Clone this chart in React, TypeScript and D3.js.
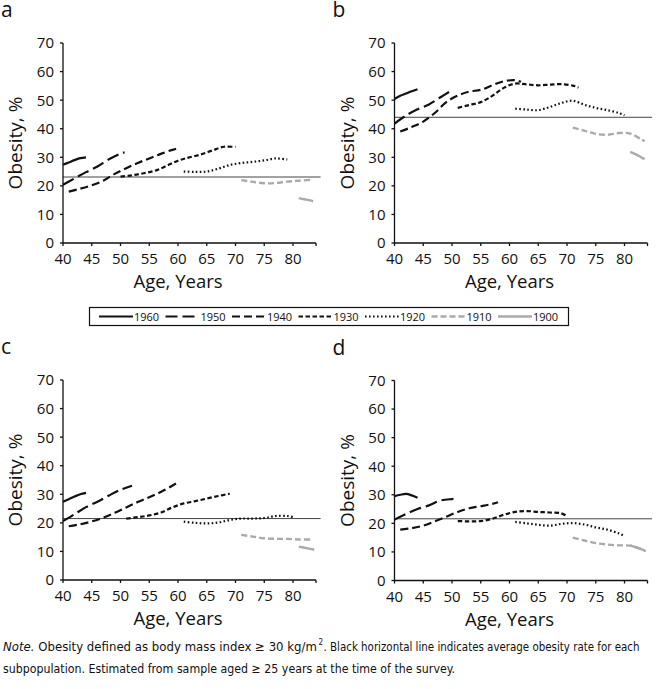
import * as d3 from "d3";

type Pt = [number, number];

const cohorts = ["1960", "1950", "1940", "1930", "1920", "1910", "1900"];
const xTicks = [40, 45, 50, 55, 60, 65, 70, 75, 80];
const yTicks = [0, 10, 20, 30, 40, 50, 60, 70];

// a
const panelA: Pt[][] = [
  [[40, 27.4], [41, 28.2], [42, 29.0], [43, 29.7], [44, 30.0]],
  [[40, 20.4], [42, 22.6], [44, 24.8], [46, 26.8], [48, 29.3], [50, 31.3], [50.7, 31.7]],
  [[41, 18.0], [43, 19.0], [45, 20.2], [47, 21.8], [49, 24.2], [51, 26.2], [53, 28.0], [55, 29.6], [57, 31.2], [59, 32.6], [60, 33.2]],
  [[50, 23.2], [52, 23.7], [54, 24.4], [56, 25.3], [58, 27.0], [60, 28.8], [62, 30.0], [64, 31.0], [66, 32.4], [68, 33.7], [70, 33.6]],
  [[61, 25.0], [63, 24.9], [65, 25.0], [67, 26.0], [69, 27.3], [71, 28.0], [73, 28.4], [75, 28.9], [77, 29.6], [79, 29.2]],
  [[71, 22.0], [73, 21.4], [75, 20.9], [77, 21.0], [79, 21.5], [81, 21.8], [83, 22.1]],
  [[81, 15.7], [82, 15.3], [83, 14.9], [83.5, 14.6]],
];
// b
const panelB: Pt[][] = [
  [[40, 50.4], [41, 51.5], [42, 52.3], [43, 53.1], [44, 53.8]],
  [[40, 41.8], [42, 44.6], [44, 46.8], [46, 48.5], [48, 51.0], [50, 53.5]],
  [[41, 39.0], [43, 40.6], [45, 42.5], [47, 45.5], [49, 49.3], [51, 51.6], [53, 53.0], [55, 53.6], [57, 55.2], [59, 56.6], [61, 57.0], [62, 56.4]],
  [[51, 47.3], [53, 48.3], [55, 49.3], [57, 51.5], [59, 54.3], [61, 55.8], [63, 55.5], [65, 55.2], [67, 55.4], [69, 55.6], [71, 55.1], [72, 54.4]],
  [[61, 47.0], [63, 46.7], [65, 46.5], [67, 47.6], [69, 49.0], [71, 49.8], [73, 48.4], [75, 47.3], [77, 46.5], [79, 45.5], [80, 44.7]],
  [[71, 40.4], [73, 39.3], [75, 38.2], [77, 37.9], [79, 38.5], [81, 38.3], [83, 36.2], [83.5, 35.6]],
  [[81, 31.9], [82, 31.0], [83, 29.9], [83.5, 29.4]],
];
// c
const panelC: Pt[][] = [
  [[40, 27.4], [41, 28.3], [42, 29.2], [43, 30.0], [44, 30.5]],
  [[40, 20.6], [42, 23.0], [44, 25.5], [46, 27.4], [48, 29.6], [50, 31.6], [52, 33.0]],
  [[41, 18.8], [43, 19.5], [45, 20.5], [47, 21.8], [49, 23.5], [51, 25.4], [53, 27.3], [55, 29.0], [57, 30.8], [59, 33.0], [60, 34.2]],
  [[51, 21.5], [53, 22.0], [55, 22.6], [57, 23.6], [59, 25.4], [61, 26.8], [63, 27.6], [65, 28.5], [67, 29.4], [69, 30.2]],
  [[61, 20.4], [63, 20.0], [65, 19.8], [67, 20.1], [69, 21.0], [71, 21.5], [73, 21.5], [75, 21.7], [77, 22.4], [79, 22.4], [80, 22.0]],
  [[71, 15.8], [73, 15.2], [75, 14.6], [77, 14.4], [79, 14.4], [81, 14.2], [83, 14.2]],
  [[81, 11.7], [82, 11.3], [83, 10.9], [83.7, 10.6]],
];
// d
const panelD: Pt[][] = [
  [[40, 29.5], [41, 30.0], [42, 30.3], [43, 29.8], [44, 29.0]],
  [[40, 21.3], [42, 23.3], [44, 25.0], [46, 26.3], [48, 28.0], [50, 28.5], [51, 28.6]],
  [[41, 17.8], [43, 18.3], [45, 19.2], [47, 20.7], [49, 22.3], [51, 24.0], [53, 25.3], [55, 26.0], [57, 26.8], [58, 27.4]],
  [[51, 20.8], [53, 20.7], [55, 20.8], [57, 21.6], [59, 23.0], [61, 24.0], [63, 24.3], [65, 24.0], [67, 23.8], [69, 23.5], [70, 22.5]],
  [[61, 20.5], [63, 20.0], [65, 19.5], [67, 19.2], [69, 19.8], [71, 20.1], [73, 19.6], [75, 18.6], [77, 17.8], [79, 16.5], [80, 15.5]],
  [[71, 15.0], [73, 14.0], [75, 13.1], [77, 12.6], [79, 12.3], [81, 12.2], [83, 11.0]],
  [[81, 12.3], [82, 11.6], [83, 10.9], [83.7, 10.3]],
];
const panelNames = ["a", "b", "c", "d"];
const averages = [23.1, 44.0, 21.5, 21.6];

const styles: Record<string, { color: string; dash: string; width: number }> = {
  "1960": { color: "#111", dash: "none", width: 2.2 },
  "1950": { color: "#111", dash: "12,5", width: 2.2 },
  "1940": { color: "#111", dash: "8,4", width: 2.2 },
  "1930": { color: "#111", dash: "4.5,2.5", width: 2.2 },
  "1920": { color: "#111", dash: "1.6,2.4", width: 2.2 },
  "1910": { color: "#aaa", dash: "6,3", width: 2.4 },
  "1900": { color: "#aaa", dash: "none", width: 2.4 },
};

const FONT = "'Open Sans', 'Noto Sans', sans-serif";
const NARROW = "'Liberation Sans Narrow', 'DejaVu Sans Condensed', sans-serif";

function Panel({ name, series, avg, ox, oy }: { name: string; series: Pt[][]; avg: number; ox: number; oy: number }) {
  const x = d3.scaleLinear().domain([40, 84]).range([ox, ox + 253]);
  const y = d3.scaleLinear().domain([0, 70]).range([oy, oy - 200]);
  const line = d3.line<Pt>().x(d => x(d[0])).y(d => y(d[1])).curve(d3.curveCatmullRom);
  return (
    <g>
      <text x={ox - 62} y={oy - 226} fontSize={21} fontFamily={FONT} fill="#111">{name}</text>
      {/* average line */}
      <line x1={x(40)} x2={x(84.8)} y1={y(avg)} y2={y(avg)} stroke="#444" strokeWidth={1} />
      {series.map((s, i) => {
        const st = styles[cohorts[i]];
        return (
          <path key={i} d={line(s) || ""} fill="none" stroke={st.color}
            strokeWidth={st.width} strokeDasharray={st.dash} />
        );
      })}
      {/* axes */}
      <line x1={ox} x2={ox} y1={y(70)} y2={oy} stroke="#111" strokeWidth={1.3} />
      <line x1={ox} x2={x(84)} y1={oy} y2={oy} stroke="#111" strokeWidth={1.3} />
      {yTicks.map(t => (
        <g key={t}>
          <line x1={ox - 3} x2={ox} y1={y(t)} y2={y(t)} stroke="#111" strokeWidth={1.3} />
          <text x={ox - 9} y={y(t)} dy="0.36em" textAnchor="end" fontSize={15} fontFamily={FONT} fill="#111">{t}</text>
        </g>
      ))}
      {[...xTicks, 84].map(t => (
        <line key={t} x1={x(t)} x2={x(t)} y1={oy} y2={oy + 3} stroke="#111" strokeWidth={1.3} />
      ))}
      {xTicks.map(t => (
        <text key={t} x={x(t)} y={oy + 21} textAnchor="middle" fontSize={15} fontFamily={FONT} fill="#111">{t}</text>
      ))}
      <text x={x(60)} y={oy + 45} textAnchor="middle" fontSize={18.5} fontFamily={FONT} fill="#111">Age, Years</text>
      <text transform={`translate(${ox - 41},${y(35)}) rotate(-90)`} textAnchor="middle" fontSize={19} fontFamily={FONT} fill="#111">Obesity, %</text>
    </g>
  );
}

export default function App() {
  const panels = [panelA, panelB, panelC, panelD];
  const origins: Pt[] = [[63, 243], [394.5, 243], [63, 580], [394.5, 580.5]];
  const lx = d3.scaleLinear().domain([0, 1]).range([99, 165.5]);
  return (
    <svg width={656} height={689} style={{ position: "absolute", left: 0, top: 0, background: "white" }}>
      <rect width={656} height={689} fill="white" />
      {panels.map((p, i) => (
        <Panel key={i} name={panelNames[i]} series={p} avg={averages[i]} ox={origins[i][0]} oy={origins[i][1]} />
      ))}
      {/* legend */}
      <rect x={89.5} y={307.5} width={479} height={18} fill="white" stroke="#111" strokeWidth={1.2} />
      {cohorts.map((c, i) => {
        const st = styles[c];
        const x0 = lx(i);
        return (
          <g key={c}>
            <line x1={x0} x2={x0 + 34} y1={316.5} y2={316.5} stroke={st.color} strokeWidth={st.width} strokeDasharray={st.dash} />
            <text x={x0 + 35} y={320.5} fontSize={11} fontFamily={FONT} fill="#111">{c}</text>
          </g>
        );
      })}
      {/* note */}
      <text x={3} y={651} fontSize={13} fontFamily={NARROW} fill="#111" textLength={314} lengthAdjust="spacingAndGlyphs">
        <tspan fontStyle="italic">Note.</tspan> Obesity defined as body mass index ≥ 30 kg/m
      </text>
      <text x={318.5} y={645} fontSize={8} fontFamily={NARROW} fill="#111">2</text>
      <text x={323.5} y={651} fontSize={13} fontFamily={NARROW} fill="#111" textLength={316} lengthAdjust="spacingAndGlyphs">
        . Black horizontal line indicates average obesity rate for each
      </text>
      <text x={3} y={673} fontSize={13} fontFamily={NARROW} fill="#111" textLength={452} lengthAdjust="spacingAndGlyphs">
        subpopulation. Estimated from sample aged ≥ 25 years at the time of the survey.
      </text>
    </svg>
  );
}
